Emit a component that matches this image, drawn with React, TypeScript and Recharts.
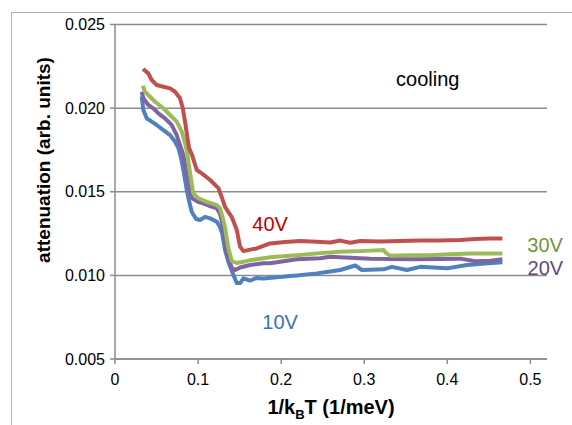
import React from 'react';
import { LineChart, Line, XAxis, YAxis, CartesianGrid, ReferenceDot } from 'recharts';

// 1/kBT values (1/meV) and attenuation values for each bias voltage
const x40V = [0.0337, 0.0401, 0.0442, 0.0502, 0.0582, 0.0663, 0.0723, 0.0783, 0.0816, 0.0843, 0.0867, 0.0892, 0.0928, 0.0984, 0.1045, 0.1145, 0.1245, 0.1289, 0.1325, 0.1406, 0.1466, 0.1506, 0.1546, 0.1627, 0.1707, 0.1867, 0.2048, 0.2229, 0.2430, 0.2590, 0.2711, 0.2831, 0.2952, 0.3193, 0.3434, 0.3675, 0.3916, 0.4157, 0.4337, 0.4518, 0.4663];
const y40V = [0.02234, 0.02208, 0.02168, 0.02138, 0.02128, 0.02118, 0.02098, 0.02059, 0.01999, 0.01919, 0.01839, 0.01761, 0.01719, 0.01630, 0.01610, 0.01570, 0.01522, 0.01462, 0.01408, 0.01349, 0.01271, 0.01171, 0.01145, 0.01154, 0.01161, 0.01191, 0.01199, 0.01205, 0.01201, 0.01197, 0.01208, 0.01195, 0.01205, 0.01202, 0.01205, 0.01208, 0.01208, 0.01211, 0.01217, 0.01220, 0.01221];

const x30V = [0.0334, 0.0361, 0.0422, 0.0482, 0.0582, 0.0663, 0.0743, 0.0804, 0.0843, 0.0867, 0.0904, 0.0943, 0.1004, 0.1105, 0.1225, 0.1265, 0.1295, 0.1325, 0.1365, 0.1406, 0.1466, 0.1546, 0.1627, 0.1787, 0.1867, 0.2189, 0.2470, 0.2711, 0.2952, 0.3233, 0.3265, 0.3313, 0.3554, 0.3795, 0.4036, 0.4277, 0.4663];
const y30V = [0.02134, 0.02098, 0.02068, 0.02038, 0.01999, 0.01959, 0.01919, 0.01859, 0.01791, 0.01737, 0.01610, 0.01490, 0.01461, 0.01440, 0.01420, 0.01401, 0.01349, 0.01283, 0.01163, 0.01086, 0.01074, 0.01081, 0.01091, 0.01102, 0.01108, 0.01121, 0.01133, 0.01141, 0.01145, 0.01151, 0.01133, 0.01118, 0.01121, 0.01121, 0.01127, 0.01131, 0.01131];

const x20V = [0.0322, 0.0341, 0.0401, 0.0461, 0.0522, 0.0602, 0.0683, 0.0743, 0.0783, 0.0823, 0.0855, 0.0883, 0.0924, 0.1004, 0.1064, 0.1145, 0.1225, 0.1265, 0.1305, 0.1346, 0.1406, 0.1446, 0.1506, 0.1627, 0.1787, 0.1867, 0.2189, 0.2470, 0.2590, 0.2711, 0.3072, 0.3590, 0.4157, 0.4337, 0.4518, 0.4663];
const y20V = [0.02098, 0.02059, 0.02019, 0.01999, 0.01969, 0.01939, 0.01899, 0.01839, 0.01779, 0.01719, 0.01630, 0.01550, 0.01462, 0.01438, 0.01431, 0.01414, 0.01401, 0.01367, 0.01283, 0.01132, 0.01044, 0.01032, 0.01047, 0.01062, 0.01072, 0.01072, 0.01097, 0.01103, 0.01111, 0.01108, 0.01100, 0.01096, 0.01100, 0.01085, 0.01088, 0.01096];

const x10V = [0.0322, 0.0341, 0.0382, 0.0442, 0.0502, 0.0582, 0.0663, 0.0723, 0.0763, 0.0795, 0.0823, 0.0864, 0.0883, 0.0924, 0.0976, 0.1024, 0.1084, 0.1145, 0.1225, 0.1259, 0.1289, 0.1325, 0.1365, 0.1425, 0.1466, 0.1506, 0.1546, 0.1627, 0.1699, 0.1787, 0.1948, 0.2108, 0.2189, 0.2430, 0.2590, 0.2711, 0.2892, 0.2972, 0.3233, 0.3334, 0.3514, 0.3675, 0.3996, 0.4237, 0.4458, 0.4663];
const y10V = [0.02070, 0.01989, 0.01939, 0.01919, 0.01899, 0.01869, 0.01839, 0.01799, 0.01761, 0.01702, 0.01630, 0.01510, 0.01462, 0.01379, 0.01337, 0.01331, 0.01350, 0.01341, 0.01321, 0.01295, 0.01253, 0.01151, 0.01080, 0.01002, 0.00954, 0.00954, 0.00982, 0.00969, 0.00984, 0.00981, 0.00988, 0.00996, 0.00999, 0.01012, 0.01023, 0.01032, 0.01059, 0.01032, 0.01036, 0.01051, 0.01032, 0.01051, 0.01042, 0.01062, 0.01071, 0.01078];

const xTicks = [0, 0.1, 0.2, 0.3, 0.4, 0.5];
const yTicks = [0.005, 0.01, 0.015, 0.02, 0.025];

const toPoints = (xs: number[], ys: number[]) => xs.map((x, i) => ({ x, y: ys[i] }));
const d40 = toPoints(x40V, y40V);
const d30 = toPoints(x30V, y30V);
const d20 = toPoints(x20V, y20V);
const d10 = toPoints(x10V, y10V);

const FONT = '"Liberation Sans", Arial, sans-serif';
const GRID = '#8c8c8c';
const LW = 4;

export default function App() {
  return (
    <div style={{ position: 'absolute', left: 0, top: 0, width: 572, height: 425, background: '#fff', fontFamily: FONT }}>
      <div style={{ position: 'absolute', left: 11, top: 12, width: 600, height: 500, borderLeft: '1px solid #b0b0b0', borderTop: '1px solid #b0b0b0' }} />
      <div style={{ position: 'absolute', left: 0, top: 0 }}>
        <LineChart width={572} height={425} data={d40} margin={{ top: 24.5, right: 25, left: 55, bottom: 26 }}>
          <CartesianGrid horizontal vertical={false} stroke={GRID} strokeWidth={1.5} />
          <XAxis
            type="number"
            dataKey="x"
            domain={[0, 0.52]}
            ticks={xTicks}
            allowDataOverflow
            height={40}
            stroke={GRID}
            strokeWidth={1.5}
            tickSize={5}
            tickMargin={10}
            tick={{ fill: '#000', fontSize: 16, fontFamily: FONT }}
            tickFormatter={(v: number) => String(v)}
            label={{
              content: (p: any) => {
                const vb = p.viewBox || {};
                return (
                  <text x={vb.x + vb.width / 2} y={vb.y + 55} textAnchor="middle" fontFamily={FONT} fontSize={20} fontWeight="bold" fill="#000">
                    1/k<tspan fontSize={13} dy={5}>B</tspan><tspan dy={-5}>T (1/meV)</tspan>
                  </text>
                );
              },
            }}
          />
          <YAxis
            type="number"
            domain={[0.005, 0.025]}
            ticks={yTicks}
            allowDataOverflow
            width={60}
            stroke={GRID}
            strokeWidth={1.5}
            tickSize={5}
            tickMargin={5}
            tick={{ fill: '#000', fontSize: 16, fontFamily: FONT }}
            tickFormatter={(v: number) => v.toFixed(3)}
            label={{
              content: () => (
                <text x={50} y={160} transform="rotate(-90, 50, 160)" textAnchor="middle" fontFamily={FONT} fontSize={19} fontWeight="bold" fill="#000">
                  attenuation (arb. units)
                </text>
              ),
            }}
          />
          <Line data={d10} dataKey="y" stroke="#4f81bd" strokeWidth={LW} strokeLinejoin="round" dot={false} isAnimationActive={false} />
          <Line data={d20} dataKey="y" stroke="#8064a2" strokeWidth={LW} strokeLinejoin="round" dot={false} isAnimationActive={false} />
          <Line data={d30} dataKey="y" stroke="#9bbb59" strokeWidth={LW} strokeLinejoin="round" dot={false} isAnimationActive={false} />
          <Line data={d40} dataKey="y" stroke="#c0504d" strokeWidth={LW} strokeLinejoin="round" dot={false} isAnimationActive={false} />
          <ReferenceDot x={0.3765} y={0.02176} r={0} stroke="none" fill="none" label={{ value: 'cooling', position: 'center', fill: '#000', fontSize: 20, fontFamily: FONT }} />
          <ReferenceDot x={0.1867} y={0.01307} r={0} stroke="none" fill="none" label={{ value: '40V', position: 'center', fill: '#c00000', fontSize: 20, fontFamily: FONT }} />
          <ReferenceDot x={0.5177} y={0.01184} r={0} stroke="none" fill="none" label={{ value: '30V', position: 'center', fill: '#77933c', fontSize: 20, fontFamily: FONT }} />
          <ReferenceDot x={0.518} y={0.01044} r={0} stroke="none" fill="none" label={{ value: '20V', position: 'center', fill: '#604a7b', fontSize: 20, fontFamily: FONT }} />
          <ReferenceDot x={0.1988} y={0.00721} r={0} stroke="none" fill="none" label={{ value: '10V', position: 'center', fill: '#3f72b5', fontSize: 20, fontFamily: FONT }} />
        </LineChart>
      </div>
    </div>
  );
}
